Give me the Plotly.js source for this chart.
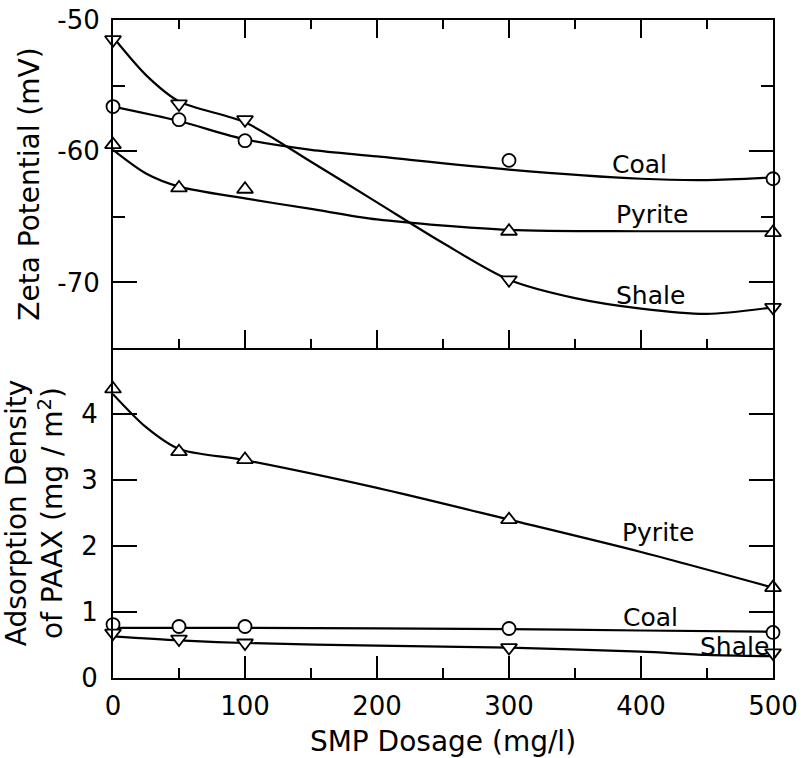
<!DOCTYPE html>
<html>
<head>
<meta charset="utf-8">
<script src="https://cdn.plot.ly/plotly-3.0.1.min.js"></script>
<style>html,body{margin:0;padding:0;background:#fff;}</style>
</head>
<body>
<div id="chart" style="width:810px;height:758px;"></div>
<script>
// ---- measured points (SMP dosage, mg/l) ----
const dose = [0, 50, 100, 300, 500];

// Zeta potential (mV)
const zetaCoal   = [-56.6, -57.6, -59.2, -60.7, -62.1];
const zetaPyrite = [-59.5, -62.8, -62.9, -66.1, -66.2];
const zetaShale  = [-51.5, -56.4, -57.6, -69.8, -71.9];

// Adsorption density of PAAX (mg/m2)
const adsPyrite = [4.38, 3.43, 3.31, 2.40, 1.37];
const adsCoal   = [0.81, 0.78, 0.78, 0.75, 0.69];
const adsShale  = [0.68, 0.59, 0.53, 0.46, 0.38];

// ---- hand-drawn fitted curves ----
const zCoalCurveX   = [0, 50, 100, 150, 200, 300, 400, 450, 500];
const zCoalCurveY   = [-56.6, -57.7, -59.1, -59.9, -60.4, -61.4, -62.1, -62.2, -62.0];
const zPyriteCurveX = [0, 25, 50, 100, 150, 200, 300, 400, 500];
const zPyriteCurveY = [-59.9, -61.7, -62.7, -63.6, -64.4, -65.2, -66.0, -66.1, -66.1];
const zShaleCurveX  = [0, 25, 50, 100, 150, 200, 250, 300, 350, 400, 450, 500];
const zShaleCurveY  = [-51.3, -54.2, -56.2, -57.8, -60.8, -63.9, -67.0, -69.8, -71.2, -72.0, -72.4, -71.9];

const aPyriteCurveX = [0, 25, 50, 100, 200, 300, 400, 500];
const aPyriteCurveY = [4.30, 3.80, 3.47, 3.30, 2.88, 2.40, 1.91, 1.37];
const aCoalCurveX   = [0, 100, 300, 400, 500];
const aCoalCurveY   = [0.76, 0.76, 0.74, 0.72, 0.70];
const aShaleCurveX  = [0, 50, 100, 200, 300, 400, 450, 500];
const aShaleCurveY  = [0.63, 0.57, 0.53, 0.49, 0.46, 0.40, 0.35, 0.33];

// ---- axis ticks / labels ----
const xTickVals = [0, 100, 200, 300, 400, 500];
const xTickText = ['0', '100', '200', '300', '400', '500'];
const zTickVals = [-70, -60, -50];
const zTickText = ['-70', '-60', '-50'];
const aTickVals = [0, 1, 2, 3, 4];
const aTickText = ['0', '1', '2', '3', '4'];

const FONT = 'DejaVu Sans, Liberation Sans, sans-serif';
const lineStyle = {color: '#000', width: 2.2, shape: 'spline', smoothing: 0.8};

function curve(x, y, xa, ya) {
  return {x: x, y: y, xaxis: xa, yaxis: ya, mode: 'lines', line: lineStyle,
          hoverinfo: 'skip', showlegend: false};
}
function pts(y, sym, size, xa, ya) {
  return {x: dose, y: y, xaxis: xa, yaxis: ya, mode: 'markers', cliponaxis: false,
          marker: {symbol: sym, size: size, color: '#fff', line: {color: '#000', width: 1.8}},
          showlegend: false};
}

const traces = [
  curve(zCoalCurveX, zCoalCurveY, 'x', 'y'),
  curve(zPyriteCurveX, zPyriteCurveY, 'x', 'y'),
  curve(zShaleCurveX, zShaleCurveY, 'x', 'y'),
  pts(zetaCoal, 'circle', 13, 'x', 'y'),
  pts(zetaPyrite, 'triangle-up', 14, 'x', 'y'),
  pts(zetaShale, 'triangle-down', 14, 'x', 'y'),
  curve(aPyriteCurveX, aPyriteCurveY, 'x2', 'y2'),
  curve(aCoalCurveX, aCoalCurveY, 'x2', 'y2'),
  curve(aShaleCurveX, aShaleCurveY, 'x2', 'y2'),
  pts(adsPyrite, 'triangle-up', 14, 'x2', 'y2'),
  pts(adsCoal, 'circle', 13, 'x2', 'y2'),
  pts(adsShale, 'triangle-down', 14, 'x2', 'y2')
];

const axCommon = {showgrid: false, zeroline: false, showline: true, linecolor: '#000',
                  linewidth: 2, tickcolor: '#000', tickwidth: 2, ticks: 'inside',
                  tickfont: {family: FONT, size: 26, color: '#000'}};

const layout = {
  width: 810, height: 758,
  margin: {l: 113, r: 37, t: 20, b: 80},
  paper_bgcolor: '#fff', plot_bgcolor: '#fff',
  font: {family: FONT, color: '#000'},
  showlegend: false,
  xaxis: Object.assign({}, axCommon, {
    anchor: 'y', range: [0, 500], tickmode: 'array', tickvals: xTickVals,
    showticklabels: false, ticklen: 18, mirror: 'ticks',
    minor: {ticks: 'inside', tickmode: 'linear', tick0: 0, dtick: 50, ticklen: 9,
            tickwidth: 2, tickcolor: '#000'}
  }),
  yaxis: Object.assign({}, axCommon, {
    domain: [0.5015, 1], anchor: 'x', range: [-75, -50],
    tickmode: 'array', tickvals: zTickVals, ticktext: zTickText,
    ticklen: 24, mirror: 'ticks', ticklabelstandoff: 6,
    minor: {ticks: 'inside', tickmode: 'linear', tick0: -50, dtick: 5, ticklen: 12,
            tickwidth: 2, tickcolor: '#000'},
    title: {text: 'Zeta Potential (mV)', standoff: 10,
            font: {family: FONT, size: 28, color: '#000'}}
  }),
  xaxis2: Object.assign({}, axCommon, {
    anchor: 'y2', range: [0, 500], tickmode: 'array', tickvals: xTickVals,
    ticktext: xTickText, ticklen: 22, mirror: false, ticklabelstandoff: 4,
    minor: {ticks: 'inside', tickmode: 'linear', tick0: 0, dtick: 50, ticklen: 10,
            tickwidth: 2, tickcolor: '#000'},
    title: {text: 'SMP Dosage (mg/l)', standoff: 16,
            font: {family: FONT, size: 28, color: '#000'}}
  }),
  yaxis2: Object.assign({}, axCommon, {
    domain: [0, 0.5015], anchor: 'x2', range: [0, 5],
    tickmode: 'array', tickvals: aTickVals, ticktext: aTickText,
    ticklen: 24, mirror: 'ticks', ticklabelstandoff: 8,
    title: {text: 'Adsorption Density<br>of PAAX (mg / m<sup>2</sup>)', standoff: 12,
            font: {family: FONT, size: 28, color: '#000'}}
  }),
  annotations: [
    {x: 399, y: -61.05, xref: 'x', yref: 'y', text: 'Coal'},
    {x: 408, y: -64.86, xref: 'x', yref: 'y', text: 'Pyrite'},
    {x: 407, y: -70.96, xref: 'x', yref: 'y', text: 'Shale'},
    {x: 413, y: 2.20, xref: 'x2', yref: 'y2', text: 'Pyrite'},
    {x: 407, y: 0.92, xref: 'x2', yref: 'y2', text: 'Coal'},
    {x: 471, y: 0.48, xref: 'x2', yref: 'y2', text: 'Shale'}
  ].map(a => Object.assign(a, {showarrow: false, xanchor: 'center', yanchor: 'middle',
                                font: {family: FONT, size: 25, color: '#000'}}))
};

Plotly.newPlot('chart', traces, layout, {displayModeBar: false, staticPlot: true});
</script>
</body>
</html>
